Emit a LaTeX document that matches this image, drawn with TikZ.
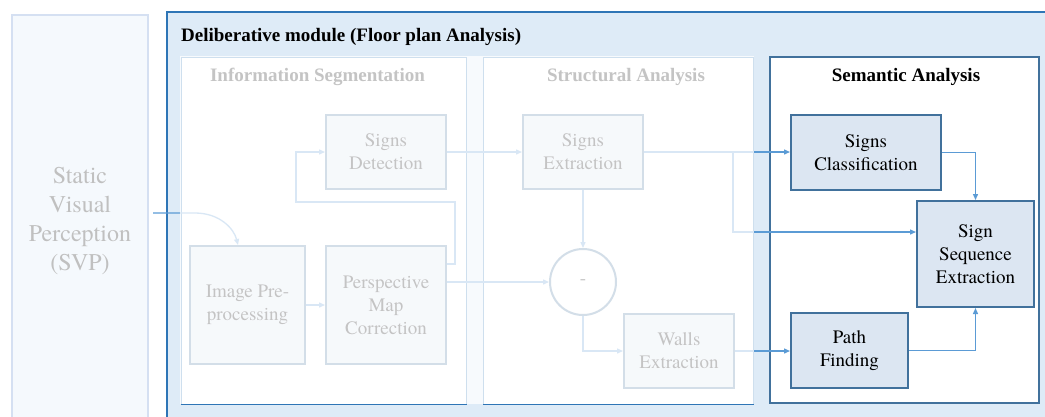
\documentclass[tikz,border=0pt]{standalone}
\usepackage{fontspec}
\newfontfamily\tnr{Liberation Serif}
\newfontfamily\termes{texgyretermes}[Extension=.otf, UprightFont=*-regular, BoldFont=*-bold]
\usetikzlibrary{arrows.meta,calc}
\definecolor{bgblue}{HTML}{DEEBF7}
\definecolor{darkblue}{HTML}{2E75B6}
\definecolor{boxborder}{HTML}{41719C}
\definecolor{boxfill}{HTML}{DCE6F2}
\definecolor{arrowblue}{HTML}{5B9BD5}
\definecolor{svpfill}{HTML}{F5F9FD}
\definecolor{svpborder}{HTML}{D5E0F2}
\definecolor{svptext}{HTML}{C0C0C0}
\tikzset{
  procbox/.style={draw=boxborder, line width=2pt, fill=boxfill, align=center,
    font=\termes\fontsize{19}{23}\selectfont, inner sep=0pt},
  panel/.style={draw=darkblue, fill=white, line width=1pt, inner sep=0pt},
  semipanel/.style={draw=boxborder, fill=white, line width=1.5pt, inner sep=0pt},
  paneltitle/.style={font=\tnr\fontsize{19}{22}\selectfont\bfseries, inner sep=0pt},
  arr/.style={draw=arrowblue, line width=1.3pt, -{Triangle[length=6pt,width=5pt]}},
}
\begin{document}
\begin{tikzpicture}[x=1pt,y=-1pt]
\useasboundingbox (0,0) rectangle (1045,416);
% SVP block
\node[draw=svpborder, line width=2pt, fill=svpfill, minimum width=136pt,
  minimum height=412pt, inner sep=0pt, align=center, text=svptext,
  font=\termes\fontsize{24}{29}\selectfont] (svp) at (80,221) {Static\\Visual\\Perception\\(SVP)};
% Deliberative module
\node[fill=bgblue, minimum width=885pt, minimum height=414pt, inner sep=0pt,
  anchor=north west] (delib) at (167,12) {};
\draw[darkblue, line width=2.2pt] (delib.south west) -- (delib.north west) -- (delib.north east);
\node[paneltitle, anchor=west] (deltitle) at (181,37) {Deliberative module (Floor plan Analysis)};
% panels
\node[panel, minimum width=285pt, minimum height=347pt] (infop) at (323.5,230.5) {};
\node[panel, minimum width=270pt, minimum height=347pt] (structp) at (618,230.5) {};
\node[semipanel, minimum width=269pt, minimum height=346pt] (semp) at (904.5,230) {};
\node[paneltitle] (infot) at (317.5,77) {Information Segmentation};
\node[paneltitle] (structt) at (626,77) {Structural Analysis};
\node[paneltitle] (semt) at (906,77) {Semantic Analysis};
% boxes
\node[procbox, minimum width=120pt, minimum height=74pt] (sd) at (386,152) {Signs\\Detection};
\node[procbox, minimum width=115pt, minimum height=118pt] (ipp) at (247.5,305) {Image Pre-\\processing};
\node[procbox, minimum width=120pt, minimum height=118pt] (pmc) at (386,305) {Perspective\\Map\\Correction};
\node[procbox, minimum width=120pt, minimum height=74pt] (se) at (583,152) {Signs\\Extraction};
\node[circle, draw=boxborder, line width=2pt, fill=white, minimum size=66pt, inner sep=0pt,
  font=\termes\fontsize{19}{23}\selectfont] (circ) at (583,282) {-};
\node[procbox, minimum width=110pt, minimum height=74pt] (we) at (679,351) {Walls\\Extraction};
\node[procbox, minimum width=150pt, minimum height=75pt] (sc) at (866,152.5) {Signs\\Classification};
\node[procbox, minimum width=117pt, minimum height=106pt] (sse) at (975.5,254) {Sign\\Sequence\\Extraction};
\node[procbox, minimum width=117pt, minimum height=75pt] (pf) at (849.5,350.5) {Path\\Finding};
% connectors
\coordinate (svpout) at (153,213);
\draw[arr] (svpout) -- (195,213) .. controls (220,213) and (234,229) .. ([xshift=-9.5pt]ipp.north);
\draw[arr] (ipp.east) -- (pmc.west);
\draw[arr] ([yshift=41pt]pmc.east) -- (455,264) -- (455,202) -- (296,202) |- (sd.west);
\draw[arr] (sd.east) -- (se.west);
\draw[arr] ([yshift=23pt]pmc.east) -- (circ.west);
\draw[arr] (se.south) -- (circ.north);
\draw[arr] (circ.south) |- (we.west);
\draw[arr] (we.east) -- (we.east -| pf.west);
\draw[arr] (se.east) -- (se.east -| sc.west);
\coordinate (br) at (733,152);
\draw[arr] (br) |- ([yshift=22pt]sse.west);
\draw[arr] (sc.east) -| (sse.north);
\draw[arr] (pf.east) -| (sse.south);
% fade overlay on the first two panels
\fill[white, fill opacity=0.77] (180,56) rectangle (754,403.5);
\end{tikzpicture}
\end{document}
